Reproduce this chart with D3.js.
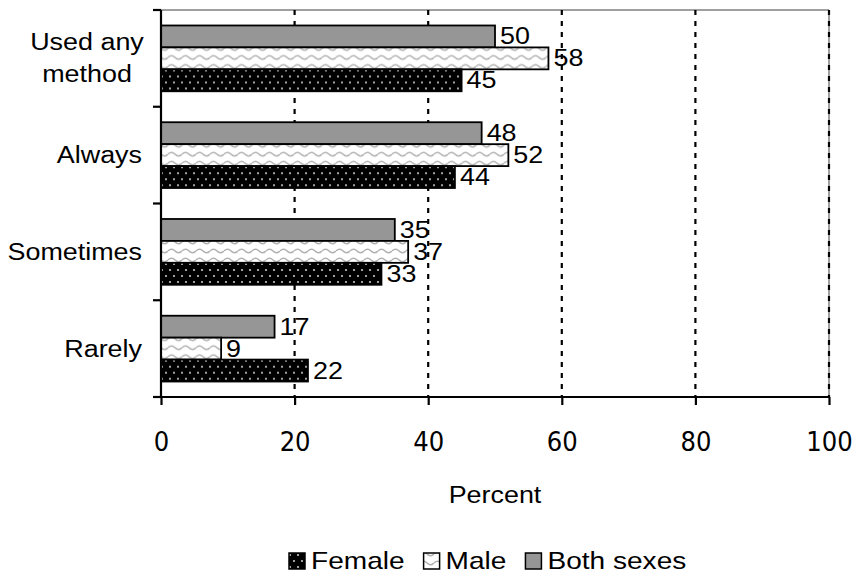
<!DOCTYPE html>
<html><head><meta charset="utf-8">
<script src="https://cdn.jsdelivr.net/npm/d3@7"></script>
<style>body{margin:0;background:#fff}svg{display:block}</style>
</head><body>
<svg id="c" width="856" height="576"></svg>
<script>
const categories = ["Used any method", "Always", "Sometimes", "Rarely"];
const categoryLines = [["Used any", "method"], ["Always"], ["Sometimes"], ["Rarely"]];
const seriesNames = ["Both sexes", "Male", "Female"];
const legendOrder = ["Female", "Male", "Both sexes"];
const bothSexes = [50, 48, 35, 17];
const male = [58, 52, 37, 9];
const female = [45, 44, 33, 22];
const xTicks = [0, 20, 40, 60, 80, 100];
const xTitle = "Percent";

(function(){
const valuesBySeries = {"Both sexes": bothSexes, "Male": male, "Female": female};
const svg = d3.select("#c");
const pLeft = 161, pRight = 829, pTop = 10, pBottom = 397;
const SX = 1.17;
const armFont = "'Liberation Sans', Arial, sans-serif";

const defs = svg.append("defs");
const pf = defs.append("pattern").attr("id","pFemale").attr("patternUnits","userSpaceOnUse")
  .attr("width",8).attr("height",12);
pf.append("rect").attr("width",8).attr("height",12).attr("fill","#000");
pf.append("circle").attr("cx",2).attr("cy",3).attr("r",1.1).attr("fill","#c8c8c8");
pf.append("circle").attr("cx",6).attr("cy",9).attr("r",1.1).attr("fill","#c8c8c8");
const pm = defs.append("pattern").attr("id","pMale").attr("patternUnits","userSpaceOnUse")
  .attr("width",14).attr("height",9);
pm.append("rect").attr("width",14).attr("height",9).attr("fill","#fff");
pm.append("path").attr("d","M0,5 Q3.5,1.5 7,5 T14,5").attr("fill","none").attr("stroke","#b0b0b0").attr("stroke-width",1.5);

const fills = {"Both sexes":"#969696", "Male":"url(#pMale)", "Female":"url(#pFemale)"};

const x = d3.scaleLinear().domain([0,100]).range([pLeft,pRight]);
const y = d3.scaleBand().domain(categories).range([pTop,pBottom]).paddingInner(0.32).paddingOuter(0.16);
const ySub = d3.scaleBand().domain(seriesNames).range([0,y.bandwidth()]);

svg.append("line").attr("x1",pLeft).attr("x2",pRight).attr("y1",pTop).attr("y2",pTop).attr("stroke","#a0a0a0").attr("stroke-width",2);
svg.append("line").attr("x1",pRight).attr("x2",pRight).attr("y1",pTop).attr("y2",pBottom).attr("stroke","#a0a0a0").attr("stroke-width",2);

const groups = svg.append("g").selectAll("g").data(categories).join("g")
  .attr("transform", d => `translate(0,${y(d)})`);

// value labels (under gridlines)
groups.selectAll("g.lab").data((c,i) => seriesNames.map(s => ({s, v: valuesBySeries[s][i]})))
  .join("g").attr("class","lab")
  .attr("transform", d => `translate(${x(d.v)+5},${ySub(d.s)+ySub.bandwidth()/2+8}) scale(${SX},1)`)
  .append("text").text(d => d.v)
  .attr("font-family", armFont).attr("font-size", 23).attr("fill","#000");

// dashed gridlines
svg.append("g").selectAll("line").data(xTicks.filter(t => t > 0)).join("line")
  .attr("x1", d => x(d)).attr("x2", d => x(d)).attr("y1", pTop).attr("y2", pBottom)
  .attr("stroke","#000").attr("stroke-width",2.2).attr("stroke-dasharray","5,6");

// bars on top of gridlines
const barLayer = svg.append("g").selectAll("g").data(categories).join("g")
  .attr("transform", d => `translate(0,${y(d)})`);
barLayer.selectAll("rect").data((c,i) => seriesNames.map(s => ({s, v: valuesBySeries[s][i]})))
  .join("rect")
  .attr("x", x(0)).attr("y", d => ySub(d.s))
  .attr("width", d => x(d.v) - x(0)).attr("height", ySub.bandwidth())
  .attr("fill", d => fills[d.s]).attr("stroke","#000").attr("stroke-width",1.8);

const xAxis = d3.axisBottom(x).tickValues(xTicks).tickSize(8).tickFormat(d3.format("d"));
const gx = svg.append("g").attr("transform",`translate(0,${pBottom})`).call(xAxis);
gx.select(".domain").attr("stroke","#000").attr("stroke-width",2.2).attr("d",`M${pLeft},0H${pRight}`);
gx.selectAll(".tick line").attr("stroke","#000").attr("stroke-width",2.2);
gx.selectAll(".tick text").attr("font-family","'DejaVu Sans Condensed','DejaVu Sans',sans-serif")
  .attr("font-size",27).attr("fill","#000").attr("y",35).attr("dy","0.71em");

const yTickPos = categories.map(c => y(c) - y.step()*y.paddingInner()/2).concat([pBottom]);
svg.append("line").attr("x1",pLeft).attr("x2",pLeft).attr("y1",pTop).attr("y2",pBottom).attr("stroke","#000").attr("stroke-width",2.2);
svg.append("g").selectAll("line").data(yTickPos).join("line")
  .attr("x1",pLeft-8).attr("x2",pLeft).attr("y1",d=>d).attr("y2",d=>d).attr("stroke","#000").attr("stroke-width",2.2);

categories.forEach((c,i) => {
  const lines = categoryLines[i];
  const cy = y(c) + y.bandwidth()/2;
  const lh = 32;
  lines.forEach((ln,j) => {
    const yy = cy + (j - (lines.length-1)/2)*lh + 8;
    svg.append("g").attr("transform",`translate(142,${yy}) scale(${SX},1)`)
      .append("text").text(ln).attr("text-anchor", lines.length>1 ? "middle" : "end")
      .attr("x", lines.length>1 ? -55/SX : 0)
      .attr("font-family",armFont).attr("font-size",23).attr("fill","#000");
  });
});

svg.append("g").attr("transform",`translate(${(pLeft+pRight)/2},503) scale(${SX},1)`)
  .append("text").text(xTitle).attr("text-anchor","middle")
  .attr("font-family",armFont).attr("font-size",23).attr("fill","#000");

let lx = 289;
const ly = 569;
legendOrder.forEach(s => {
  const g = svg.append("g");
  g.append("rect").attr("x",lx).attr("y",ly-16).attr("width",16).attr("height",16)
    .attr("fill", fills[s]).attr("stroke","#000").attr("stroke-width",1.5);
  const tg = g.append("g").attr("transform",`translate(${lx+22},${ly}) scale(${SX},1)`);
  const t = tg.append("text").text(s).attr("font-family",armFont).attr("font-size",24).attr("fill","#000");
  const w = t.node().getComputedTextLength()*SX;
  lx += 22 + w + 19;
});
})();
</script>
</body></html>
